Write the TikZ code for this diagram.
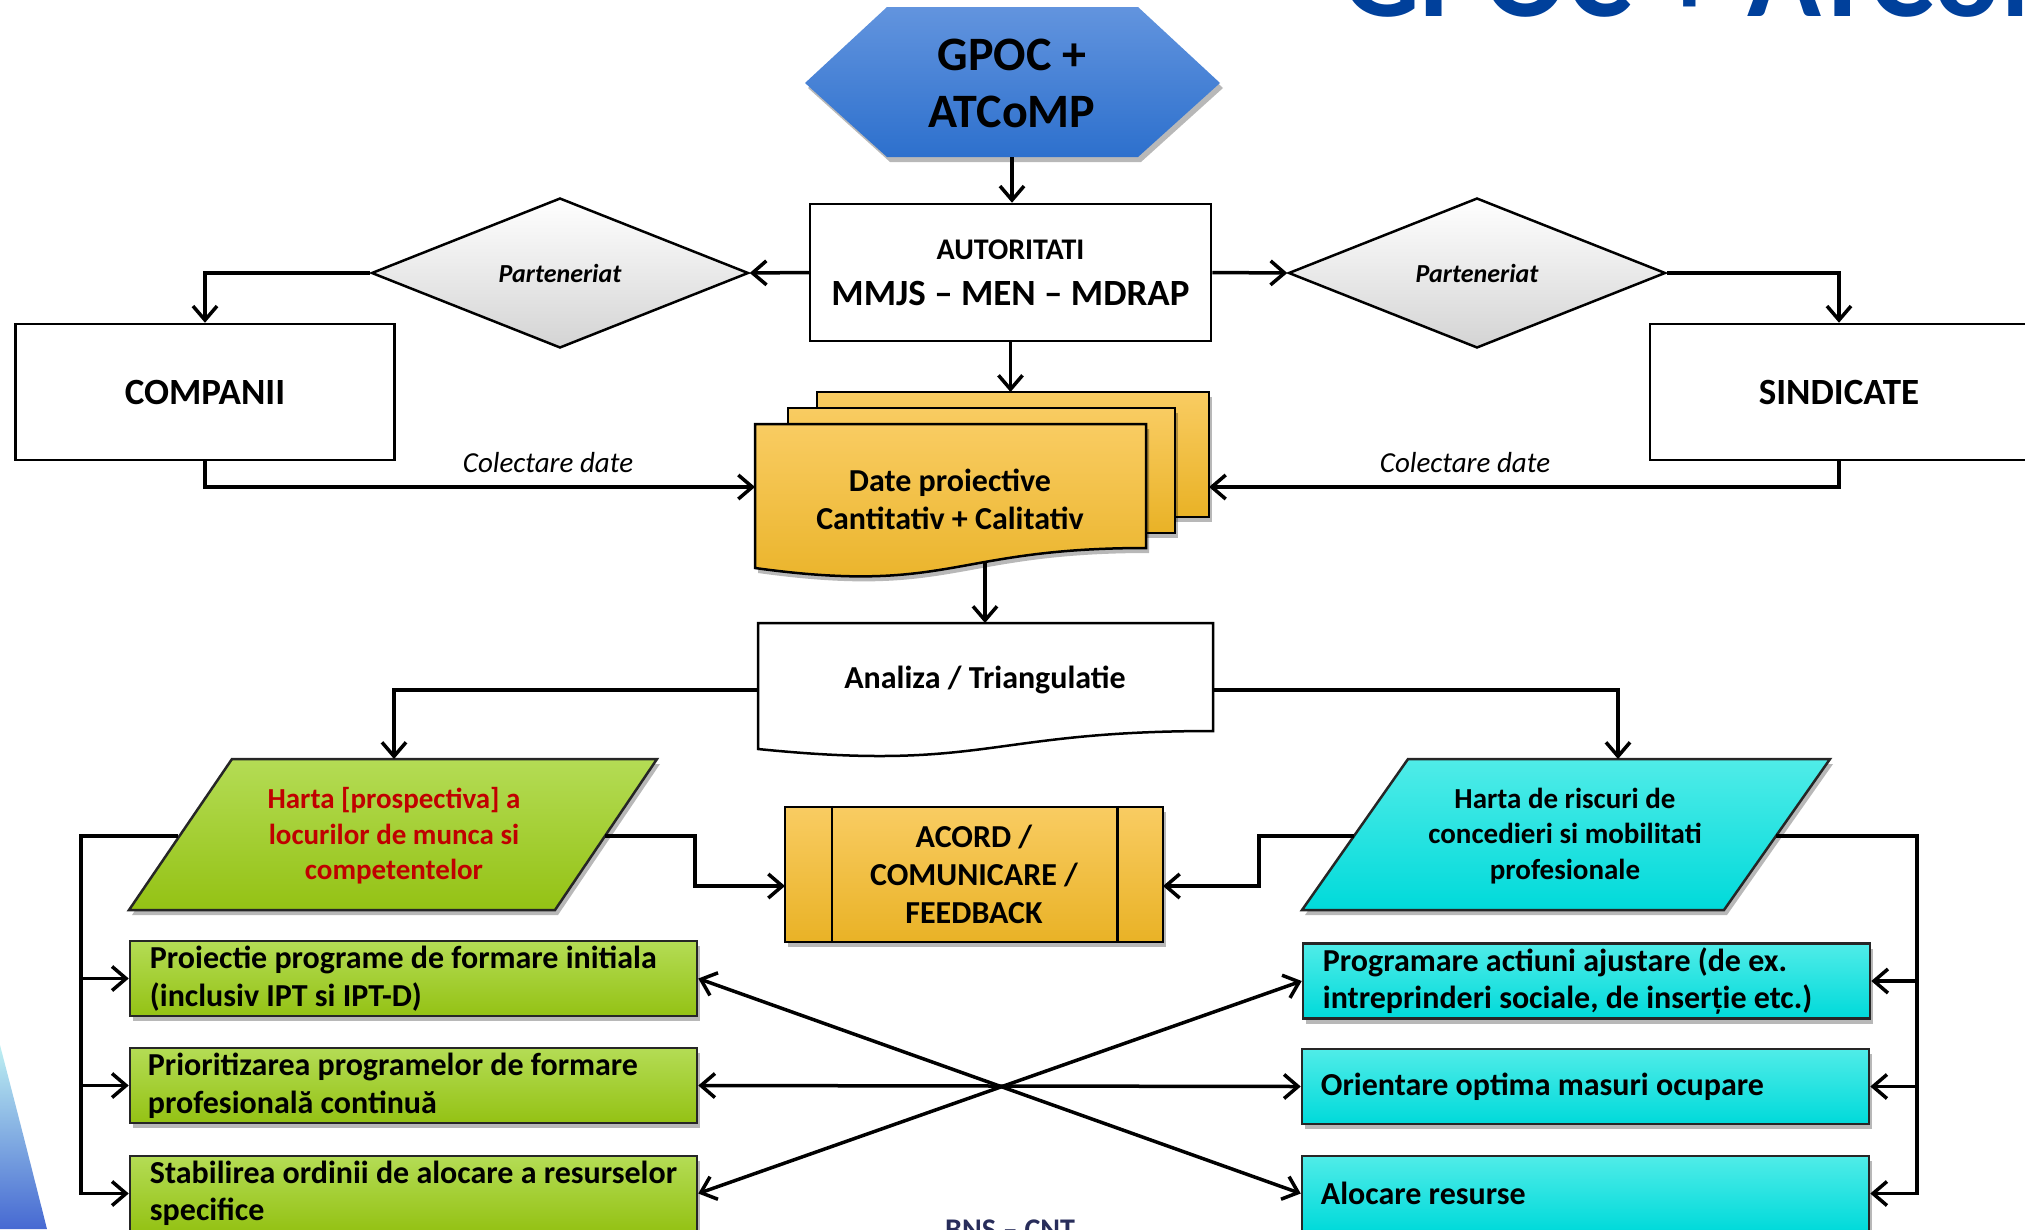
\documentclass[tikz,border=0pt]{standalone}
\usepackage{fontspec}
\setmainfont{Carlito}
\usetikzlibrary{arrows.meta,shapes.geometric,shadows,calc}
\definecolor{titleblue}{RGB}{0,64,155}
\definecolor{bnscol}{RGB}{40,45,90}
\definecolor{hexTop}{RGB}{98,148,222}
\definecolor{hexBot}{RGB}{45,112,205}
\definecolor{goldTop}{RGB}{249,204,98}
\definecolor{goldMid}{RGB}{252,192,50}
\definecolor{goldBot}{RGB}{233,178,38}
\definecolor{greenTop}{RGB}{180,220,85}
\definecolor{greenMid}{RGB}{162,206,32}
\definecolor{greenBot}{RGB}{148,194,20}
\definecolor{cyanTop}{RGB}{80,236,232}
\definecolor{cyanMid}{RGB}{20,226,224}
\definecolor{cyanBot}{RGB}{0,218,218}
\definecolor{redtext}{RGB}{192,0,0}
\definecolor{swTop}{RGB}{190,240,242}
\definecolor{swBot}{RGB}{70,105,210}
\newcommand{\myfs}[2]{\fontsize{#1}{#2}\selectfont}

\begin{document}
\begin{tikzpicture}[x=1pt,y=-1pt,
  conn/.style={line width=3.5pt, -{Straight Barb[length=14pt,width=24pt]}},
  dconn/.style={line width=3.5pt, {Straight Barb[length=14pt,width=24pt]}-{Straight Barb[length=14pt,width=24pt]}},
  shad/.style={drop shadow={shadow xshift=3pt, shadow yshift=-5pt, opacity=0.28, fill=black}},
  wbox/.style={draw, line width=2.5pt, fill=white, rectangle, inner sep=0pt},
  gold/.style={draw, line width=2.5pt, top color=goldTop, middle color=goldMid, bottom color=goldBot, shad},
  green/.style={draw=black!85, line width=2.5pt, top color=greenTop, middle color=greenMid, bottom color=greenBot, shad},
  cyanf/.style={draw=black!85, line width=2.5pt, top color=cyanTop, middle color=cyanMid, bottom color=cyanBot, shad},
  lbox/.style={green, rectangle, inner sep=0pt, minimum width=567pt, minimum height=75pt},
  rbox/.style={cyanf, rectangle, inner sep=0pt, minimum width=567pt, minimum height=75pt},
  btext/.style={anchor=west, inner sep=0pt, align=left, font=\bfseries\myfs{32}{37.5}},
  diam/.style={diamond, draw, line width=2.5pt, top color=white, bottom color=black!17, minimum width=377pt, minimum height=150pt, inner sep=0pt, font=\bfseries\itshape\myfs{26}{30}},
  lbl/.style={inner sep=0pt, font=\itshape\myfs{29}{34}}
]
\useasboundingbox (0,0) rectangle (2025,1229);

% title (cut at the top edge)
\node[anchor=base west, inner sep=0pt, text=titleblue, font=\bfseries\myfs{122}{130}] (title) at (1342,16) {GPOC + ATCoMP};
% bottom text (cut at the bottom edge)
\node[anchor=base west, inner sep=0pt, text=bnscol, font=\bfseries\myfs{30}{36}] (bns) at (945,1239) {BNS – CNT};
% decorative swoosh
\path[top color=swTop, bottom color=swBot] (0,1045) .. controls (22,1130) .. (47,1229) -- (0,1229) -- cycle;

% hexagon
\path[top color=hexTop, bottom color=hexBot, shad] (805,83) -- (887,7) -- (1138,7) -- (1220,83) -- (1138,157) -- (887,157) -- cycle;
\node[align=center, inner sep=0pt, font=\bfseries\myfs{48}{57}] (gpoc) at (1012,83) {GPOC +\\ATCoMP};
\coordinate (hexS) at (1012,157);

% authorities
\node[wbox, minimum width=401pt, minimum height=137pt] (auth) at (1010.5,272.5) {};
\node[inner sep=0pt, font=\bfseries\myfs{30}{36}] (authA) at (1010.5,250) {AUTORITATI};
\node[inner sep=0pt, font=\bfseries\myfs{37}{43}] (authB) at (1010.5,293) {MMJS – MEN – MDRAP};

% diamonds
\node[diam] (dL) at (560,273) {Parteneriat};
\node[diam] (dR) at (1477,273) {Parteneriat};

% companies / unions
\node[wbox, minimum width=379pt, minimum height=136pt, font=\bfseries\myfs{37}{43}] (comp) at (205,392) {COMPANII};
\node[wbox, minimum width=378pt, minimum height=136pt, font=\bfseries\myfs{37}{43}] (sind) at (1839,392) {SINDICATE};

% data documents
\path[gold] (817,392) rectangle (1209,517);
\path[gold] (788,408) rectangle (1175,533);
\path[gold] (755,424) -- (1146,424) -- (1146,548) .. controls (950.5,548) and (950.5,595) .. (755,568) -- cycle;
\node[align=center, inner sep=0pt, font=\bfseries\myfs{32}{38}] (date) at (950,499) {Date proiective\\Cantitativ + Calitativ};
\coordinate (docTop) at (1012,392);
\coordinate (docL) at (755,487);
\coordinate (docR) at (1209,487);
\coordinate (docBot) at (985,563);

% analysis
\path[draw, line width=2.5pt, fill=white] (758,623) -- (1213,623) -- (1213,731) .. controls (985.5,731) and (985.5,772) .. (758,749) -- cycle;
\node[inner sep=0pt, font=\bfseries\myfs{32}{38}] (anal) at (985,680) {Analiza / Triangulatie};
\coordinate (anTop) at (985,623);
\coordinate (anW) at (758,690);
\coordinate (anE) at (1213,690);

% parallelograms
\path[green] (232,759) -- (657,759) -- (555,910) -- (129,910) -- cycle;
\node[align=center, inner sep=0pt, text=redtext, font=\bfseries\myfs{29}{35.5}] (hartaL) at (394,836) {Harta [prospectiva] a\\locurilor de munca si\\competentelor};
\path[cyanf] (1408,759) -- (1830,759) -- (1724,910) -- (1302,910) -- cycle;
\node[align=center, inner sep=0pt, font=\bfseries\myfs{29}{35.5}] (hartaR) at (1565,836) {Harta de riscuri de\\concedieri si mobilitati\\profesionale};
\coordinate (hL) at (394,759);
\coordinate (hR) at (1618,759);
\coordinate (pLw) at (178,836);
\coordinate (pLe) at (605,836);
\coordinate (pRw) at (1354,836);
\coordinate (pRe) at (1776,836);

% agreement box
\node[gold, rectangle, inner sep=0pt, minimum width=378pt, minimum height=135pt, align=center, font=\bfseries\myfs{32}{38}] (acord) at (974,874.5) {ACORD /\\COMUNICARE /\\FEEDBACK};
\draw[line width=2.5pt] ([xshift=48pt]acord.north west) -- ([xshift=48pt]acord.south west);
\draw[line width=2.5pt] ([xshift=-47pt]acord.north east) -- ([xshift=-47pt]acord.south east);
\coordinate (acL) at (785,886);
\coordinate (acR) at (1163,886);
\coordinate (jL) at (695,836);
\coordinate (jR) at (1259,836);

% left boxes
\node[lbox] (lb1) at (413.5,978.5) {};
\node[btext] (lb1t) at ([xshift=21pt]lb1.west) {Proiectie programe de formare initiala\\(inclusiv IPT si IPT-D)};
\node[lbox] (lb2) at (413.5,1085.5) {};
\node[btext] (lb2t) at ([xshift=19pt]lb2.west) {Prioritizarea programelor de formare\\profesională continuă};
\node[lbox] (lb3) at (413.5,1193.5) {};
\node[btext] (lb3t) at ([xshift=21pt]lb3.west) {Stabilirea ordinii de alocare a resurselor\\specifice};

% right boxes
\node[rbox] (rb1) at (1586.5,981) {};
\node[btext] (rb1t) at ([xshift=21pt]rb1.west) {Programare actiuni ajustare (de ex.\\intreprinderi sociale, de inserție etc.)};
\node[rbox] (rb2) at (1585.5,1086.5) {};
\node[btext] (rb2t) at ([xshift=20pt]rb2.west) {Orientare optima masuri ocupare};
\node[rbox] (rb3) at (1585.5,1193.5) {};
\node[btext] (rb3t) at ([xshift=20pt]rb3.west) {Alocare resurse};

% labels
\node[lbl] (colL) at (548,463) {Colectare date};
\node[lbl] (colR) at (1465,463) {Colectare date};

% connectors
\draw[conn] (hexS) -- (hexS |- auth.north);
\draw[conn] (auth.west) -- (dL.east);
\draw[conn] (dL.west) -| (comp.north);
\draw[conn] (auth.east) -- (dR.west);
\draw[conn] (dR.east) -| (sind.north);
\draw[conn] (auth.south) -- (auth.south |- docTop);
\draw[conn] (comp.south) |- (docL);
\draw[conn] (sind.south) |- (docR);
\draw[conn] (docBot) -- (anTop);
\draw[conn] (anW) -| (hL);
\draw[conn] (anE) -| (hR);
\draw[conn] (pLe) -- (jL) |- (acL);
\draw[conn] (pRw) -- (jR) |- (acR);
\coordinate (busL) at (81,836);
\coordinate (busR) at (1917,836);
\draw[conn] (pLw) -- (busL) |- (lb3.west);
\draw[conn] (busL |- lb1.west) -- (lb1.west);
\draw[conn] (busL |- lb2.west) -- (lb2.west);
\draw[conn] (pRe) -- (busR) |- (rb3.east);
\draw[conn] (busR |- rb1.east) -- (rb1.east);
\draw[conn] (busR |- rb2.east) -- (rb2.east);
\draw[dconn] (lb1.east) -- (rb3.west);
\draw[dconn] (lb2.east) -- (rb2.west);
\draw[dconn] (lb3.east) -- (rb1.west);
\end{tikzpicture}
\end{document}
